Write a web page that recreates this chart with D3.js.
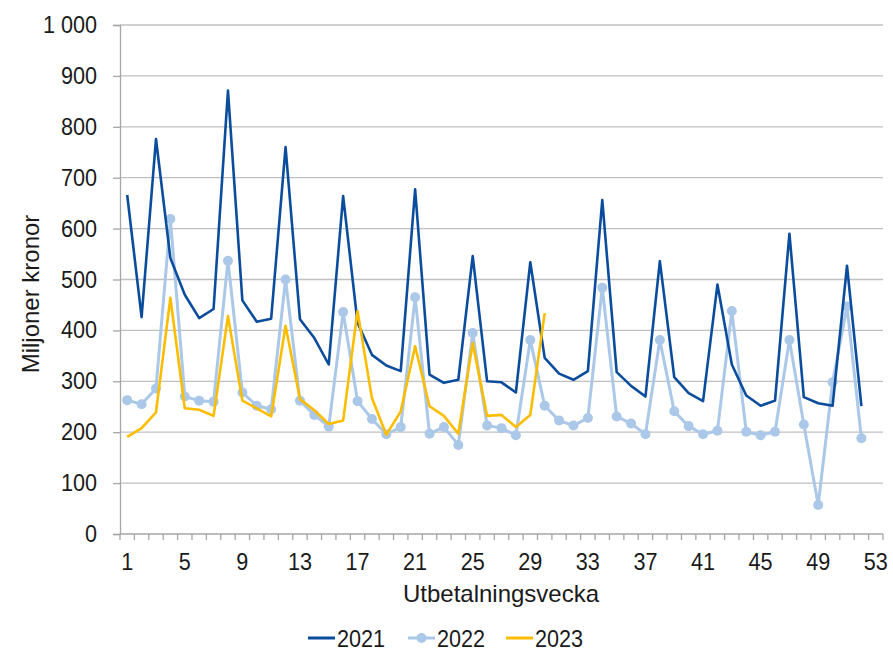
<!DOCTYPE html>
<html>
<head>
<meta charset="utf-8">
<script src="https://cdn.jsdelivr.net/npm/d3@7"></script>
<style>
  body { margin: 0; background: #fff; }
  svg text { font-family: "Liberation Sans", Arial, sans-serif; fill: #1a1a1a; }
</style>
</head>
<body>
<div class="graphbox"></div>
<script>
// weeks 1..53 on the category axis
var weeks = d3.range(1, 54)
var years = ["2021", "2022", "2023"]
var yTicks = [0, 100, 200, 300, 400, 500, 600, 700, 800, 900, 1000]

var d2021 = [666,426,776,542,470,424,442,871,459,417,423,760,422,385,333,664,415,352,331,320,
  677,313,297,303,546,300,298,278,534,346,315,303,320,656,318,291,270,536,308,277,
  261,490,333,272,252,262,590,269,257,252,527,251]
var d2022 = [263,255,286,619,270,262,260,537,278,252,245,500,262,234,211,436,261,226,196,210,
  465,197,210,175,395,213,208,194,381,252,223,213,228,484,231,217,196,381,241,212,
  196,203,438,201,194,201,381,215,57,298,447,188]
var d2023 = [191,208,239,464,247,244,232,428,262,247,231,409,265,243,216,223,438,267,195,241,
  369,251,232,197,375,232,234,210,234,434]

var cols = {"2021": "#0b4d9c", "2022": "#abc8e8", "2023": "#fcbd00"}
var seriesData = {"2021": d2021, "2022": d2022, "2023": d2023}

var svgWidth = 893
var svgHeight = 651
var plotL = 120, plotR = 883, plotT = 25, plotB = 534

var mysvg = d3.select(".graphbox")
  .append("svg")
  .attr("width", svgWidth)
  .attr("height", svgHeight)

var x = d3.scaleBand().domain(weeks).range([plotL, plotR])
var y = d3.scaleLinear().domain([0, 1000]).range([plotB, plotT])

// gridlines
mysvg.append("g")
  .selectAll("line")
  .data(yTicks.slice(1))
  .enter()
  .append("line")
  .attr("x1", plotL)
  .attr("x2", plotR)
  .attr("y1", function(d) { return y(d) })
  .attr("y2", function(d) { return y(d) })
  .attr("stroke", "#c0c0c0")
  .attr("stroke-width", 1.3)

// y axis
var yAxis = mysvg.append("g")
  .attr("transform", "translate(" + plotL + ",0)")
  .call(d3.axisLeft(y).tickValues(yTicks).tickSize(7).tickPadding(16)
    .tickFormat(function(d) { return d3.format(",")(d).replace(",", " ") }))
yAxis.select(".domain").attr("stroke", "#a6a6a6").attr("stroke-width", 1.3)
yAxis.selectAll(".tick line").attr("stroke", "#a6a6a6").attr("stroke-width", 1.3)
yAxis.selectAll("text").attr("font-size", "23.5px").attr("fill", "#1a1a1a")
  .attr("font-family", "Liberation Sans, Arial, sans-serif")
  .attr("class", "cond")

// x axis: ticks between categories
var xg = mysvg.append("g").attr("transform", "translate(0," + plotB + ")")
xg.append("line").attr("x1", plotL).attr("x2", plotR)
  .attr("stroke", "#a6a6a6").attr("stroke-width", 1.3)
xg.selectAll("line.tk")
  .data(weeks.concat([54]))
  .enter()
  .append("line")
  .attr("class", "tk")
  .attr("x1", function(d) { return plotL + (d - 1) * x.step() })
  .attr("x2", function(d) { return plotL + (d - 1) * x.step() })
  .attr("y1", 0)
  .attr("y2", 6)
  .attr("stroke", "#a6a6a6")
  .attr("stroke-width", 1.3)
xg.selectAll("text")
  .data(weeks.filter(function(d) { return (d - 1) % 4 === 0 }))
  .enter()
  .append("text")
  .attr("class", "cond")
  .attr("x", function(d) { return x(d) + x.bandwidth() / 2 })
  .attr("y", 36)
  .attr("text-anchor", "middle")
  .attr("font-size", "23.5px")
  .text(function(d) { return d })

// axis titles
mysvg.append("text")
  .attr("x", 501)
  .attr("y", 602)
  .attr("text-anchor", "middle")
  .attr("font-size", "24px")
  .text("Utbetalningsvecka")

mysvg.append("text")
  .attr("transform", "translate(39,294) rotate(-90)")
  .attr("text-anchor", "middle")
  .attr("font-size", "24px")
  .text("Miljoner kronor")

var line = d3.line()
  .x(function(d, i) { return x(i + 1) + x.bandwidth() / 2 })
  .y(function(d) { return y(d) })

// draw 2022 first, then 2021, then 2023 on top
;["2022", "2021", "2023"].forEach(function(yr) {
  mysvg.append("path")
    .datum(seriesData[yr])
    .attr("d", line)
    .attr("fill", "none")
    .attr("stroke", cols[yr])
    .attr("stroke-width", yr === "2022" ? 3 : 2.6)
    .attr("stroke-linejoin", "round")
  if (yr === "2022") {
    mysvg.append("g").selectAll("circle")
      .data(d2022)
      .enter()
      .append("circle")
      .attr("cx", function(d, i) { return x(i + 1) + x.bandwidth() / 2 })
      .attr("cy", function(d) { return y(d) })
      .attr("r", 5)
      .attr("fill", cols["2022"])
  }
})

// legend
var legX = [308, 408, 506]
var leg = mysvg.append("g")
years.forEach(function(yr, i) {
  var g = leg.append("g").attr("transform", "translate(" + legX[i] + ",638)")
  g.append("line").attr("x1", 0).attr("x2", 27)
    .attr("stroke", cols[yr]).attr("stroke-width", 3)
  if (yr === "2022") g.append("circle").attr("cx", 13.5).attr("r", 5).attr("fill", cols[yr])
  g.append("text").attr("class", "cond").attr("x", 29).attr("y", 8.5)
    .attr("font-size", "23.5px").text(yr)
})

// the original font is a bit narrower than Liberation Sans
mysvg.selectAll("text.cond").each(function() {
  var w = this.getComputedTextLength()
  d3.select(this).attr("textLength", w * 0.92).attr("lengthAdjust", "spacingAndGlyphs")
})
</script>
</body>
</html>
